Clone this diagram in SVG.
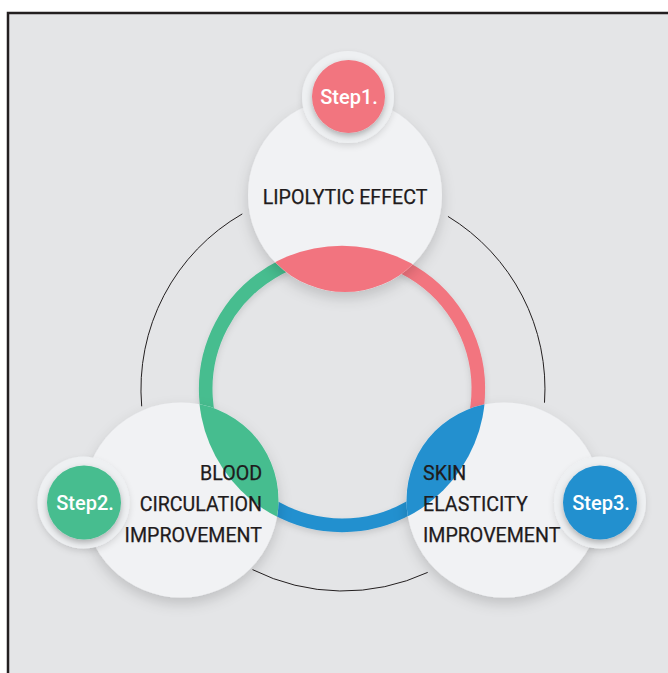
<svg xmlns="http://www.w3.org/2000/svg" width="668" height="673" viewBox="0 0 668 673">
<defs>
<filter id="sh" x="-40%" y="-40%" width="180%" height="180%"><feDropShadow dx="0" dy="6" stdDeviation="7" flood-color="#000" flood-opacity="0.16"/></filter>
<filter id="shs" x="-40%" y="-40%" width="180%" height="180%"><feDropShadow dx="0" dy="3" stdDeviation="3" flood-color="#000" flood-opacity="0.28"/></filter>
<filter id="shr" x="-20%" y="-20%" width="140%" height="140%"><feDropShadow dx="0" dy="3" stdDeviation="3" flood-color="#000" flood-opacity="0.12"/></filter>
<clipPath id="cTop"><circle cx="345" cy="195" r="97"/></clipPath>
<clipPath id="cBL"><circle cx="181" cy="500" r="97.5"/></clipPath>
<clipPath id="cBR"><circle cx="504" cy="500" r="97.5"/></clipPath>
</defs>
<style>
.bg{fill:#e4e5e7;stroke:#231f20;stroke-width:2.5}
.big{fill:#f1f2f4}
.halo{fill:#eef0f2}
.thin{fill:none;stroke:#231f20;stroke-width:1}
.ring{fill:none;stroke-width:13.6}
.lbl{font-family:Roboto,"Liberation Sans",sans-serif;font-size:19.6px;fill:#1f1b1c;stroke:#1f1b1c;stroke-width:0.25}
.step{font-family:Roboto,"Liberation Sans",sans-serif;font-size:20px;font-weight:500;fill:#ffffff;text-anchor:middle}
.pink{fill:#f2747f}
.green{fill:#46bd8f}
.blue{fill:#2390cf}
</style>
<rect class="bg" x="8" y="13" width="680" height="680"/>
<g id="connectors">
<path class="thin" d="M447.96 216.4 A202 202 0 0 1 544.5 402.7"/>
<path class="thin" d="M427.7 572.4 A202 202 0 0 1 252.5 569.6"/>
<path class="thin" d="M141.7 406.3 A202 202 0 0 1 242.3 213.9"/>
<g filter="url(#shr)">
<path class="ring" stroke="#f2747f" d="M342 252.7 A136.3 136.3 0 0 1 454.5 466.0"/>
<path class="ring" stroke="#2390cf" d="M454.5 466.0 A136.3 136.3 0 0 1 229.8 466.4"/>
<path class="ring" stroke="#46bd8f" d="M229.8 466.4 A136.3 136.3 0 0 1 342 252.7"/>
</g>
</g>
<g id="node-lipolytic">
<circle class="big" cx="345" cy="195" r="97" filter="url(#sh)"/>
<circle class="pink" cx="342" cy="389" r="143.3" clip-path="url(#cTop)"/>
<text class="lbl" x="345" y="204" text-anchor="middle">LIPOLYTIC EFFECT</text>
</g>
<g id="node-blood">
<circle class="big" cx="181" cy="500" r="97.5" filter="url(#sh)"/>
<circle class="green" cx="342" cy="389" r="143.3" clip-path="url(#cBL)"/>
<text class="lbl" text-anchor="end"><tspan x="262" y="480">BLOOD</tspan><tspan x="262" y="511">CIRCULATION</tspan><tspan x="262" y="542">IMPROVEMENT</tspan></text>
</g>
<g id="node-skin">
<circle class="big" cx="504" cy="500" r="97.5" filter="url(#sh)"/>
<circle class="blue" cx="342" cy="389" r="143.3" clip-path="url(#cBR)"/>
<text class="lbl"><tspan x="423" y="480">SKIN</tspan><tspan x="423" y="511">ELASTICITY</tspan><tspan x="423" y="542">IMPROVEMENT</tspan></text>
</g>
<g id="step1">
<circle class="halo" cx="348" cy="97" r="46" filter="url(#shr)"/>
<circle class="pink" cx="348.5" cy="96.5" r="36.5" filter="url(#shs)"/>
<text class="step" x="349" y="103.5">Step1.</text>
</g>
<g id="step2">
<circle class="halo" cx="83.5" cy="502.5" r="46" filter="url(#shr)"/>
<circle class="green" cx="84" cy="502.5" r="37" filter="url(#shs)"/>
<text class="step" x="85" y="509.5">Step2.</text>
</g>
<g id="step3">
<circle class="halo" cx="600" cy="502.5" r="46" filter="url(#shr)"/>
<circle class="blue" cx="600" cy="502.5" r="37" filter="url(#shs)"/>
<text class="step" x="601" y="509.5">Step3.</text>
</g>
</svg>
